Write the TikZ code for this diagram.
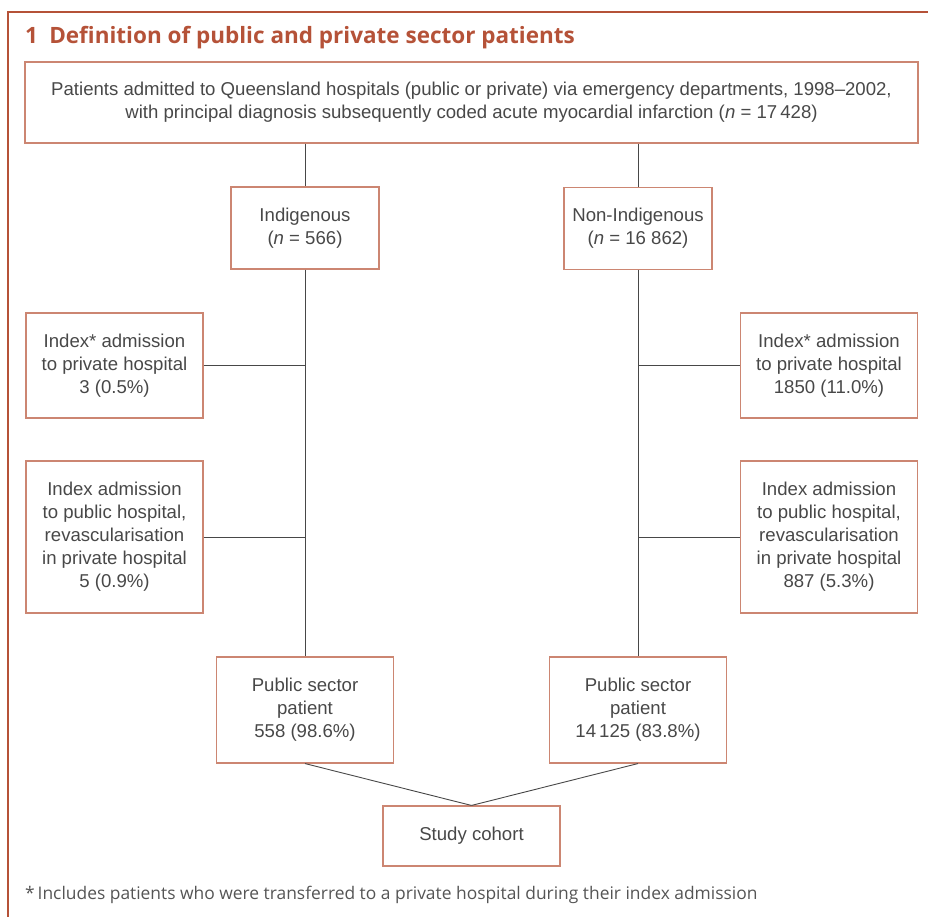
\documentclass[tikz,border=0pt]{standalone}
\usepackage{fontspec}
\setmainfont{Liberation Sans}
\newfontfamily\titlefont{Open Sans}
\usetikzlibrary{positioning, calc}
\definecolor{MJARust}{RGB}{181, 82, 56}
\definecolor{MJASalmon}{RGB}{204, 134, 114}
\definecolor{MJAGrey}{RGB}{72, 72, 72}
\definecolor{MJANote}{RGB}{85, 85, 85}

\begin{document}
\begin{tikzpicture}[
    % Units: one pixel of the page
    x=1pt, y=-1pt,
    % --- STYLES ---
    % Base: salmon border, sans text
    base/.style={
        draw=MJASalmon,
        line width=1.1pt,
        align=center,
        text=MJAGrey,
        inner sep=0pt,
        font=\fontsize{18.6}{23}\selectfont
    },
    % Box: standard side box
    box/.style={
        base,
        rectangle,
        minimum width=177pt
    },
    % Group box: Indigenous / Non-Indigenous
    groupbox/.style={
        base,
        rectangle,
        minimum width=148pt,
        minimum height=82pt
    },
    % Links: plain dark grey lines
    link/.style={
        draw=MJAGrey,
        line width=0.9pt
    }
]
\useasboundingbox (0,0) rectangle (928,917);

% --- FRAME AND TITLE ---
\draw [MJARust, line width=1.6pt] (8,917) -- (8,12) -- (928,12);
\node (title) [anchor=base west, text=MJARust, inner sep=0pt,
    font=\titlefont\bfseries\fontsize{22.5}{26}\selectfont] at (25,44)
    {1\enspace Definition of public and private sector patients};

% --- 1. ADMISSIONS ---
\node (admitted) [base, minimum width=893pt, minimum height=81pt] at (471.5,102.5)
    {Patients admitted to Queensland hospitals (public or private) via emergency departments, 1998--2002,\\
     with principal diagnosis subsequently coded acute myocardial infarction (\textit{n} = 17\,428)};

% --- 2. GROUPS ---
\node (indig) [groupbox] at (305,228) {Indigenous\\(\textit{n} = 566)};
\node (nonindig) [groupbox] at (638,228.5) {Non-Indigenous\\(\textit{n} = 16 862)};

% --- 3. SIDE BOXES ---
% Left column
\node (privL) [box, minimum height=105pt] at (114.5,365.5)
    {Index* admission\\to private hospital\\3 (0.5\%)};
\node (revL) [box, minimum height=152pt] at (114.5,537)
    {Index admission\\to public hospital,\\revascularisation\\in private hospital\\5 (0.9\%)};
% Right column
\node (privR) [box, minimum height=105pt] at (829,365.5)
    {Index* admission\\to private hospital\\1850 (11.0\%)};
\node (revR) [box, minimum height=152pt] at (829,537)
    {Index admission\\to public hospital,\\revascularisation\\in private hospital\\887 (5.3\%)};

% --- 4. PUBLIC SECTOR AND COHORT ---
\node (publicL) [box, minimum height=106pt] at (305,710)
    {Public sector\\patient\\558 (98.6\%)};
\node (publicR) [box, minimum height=106pt] at (638,710)
    {Public sector\\patient\\14\,125 (83.8\%)};
\node (cohort) [box, minimum height=60pt] at (471.5,836) {Study cohort};

% --- CONNECTIONS ---
\draw [link] (admitted.south -| indig.north) -- (indig.north);
\draw [link] (admitted.south -| nonindig.north) -- (nonindig.north);

% Trunks
\draw [link] (indig.south) -- (publicL.north);
\draw [link] (nonindig.south) -- (publicR.north);

% Branches
\draw [link] (privL.east) -- (privL.east -| indig.south);
\draw [link] (revL.east) -- (revL.east -| indig.south);
\draw [link] (privR.west) -- (privR.west -| nonindig.south);
\draw [link] (revR.west) -- (revR.west -| nonindig.south);

% Merge into cohort
\draw [link] (publicL.south) -- (cohort.north);
\draw [link] (publicR.south) -- (cohort.north);

% --- FOOTNOTE ---
\node (note) [anchor=base west, text=MJANote, inner sep=0pt,
    font=\titlefont\fontsize{17.4}{20}\selectfont] at (25,899)
    {*\,Includes patients who were transferred to a private hospital during their index admission};

\end{tikzpicture}
\end{document}
